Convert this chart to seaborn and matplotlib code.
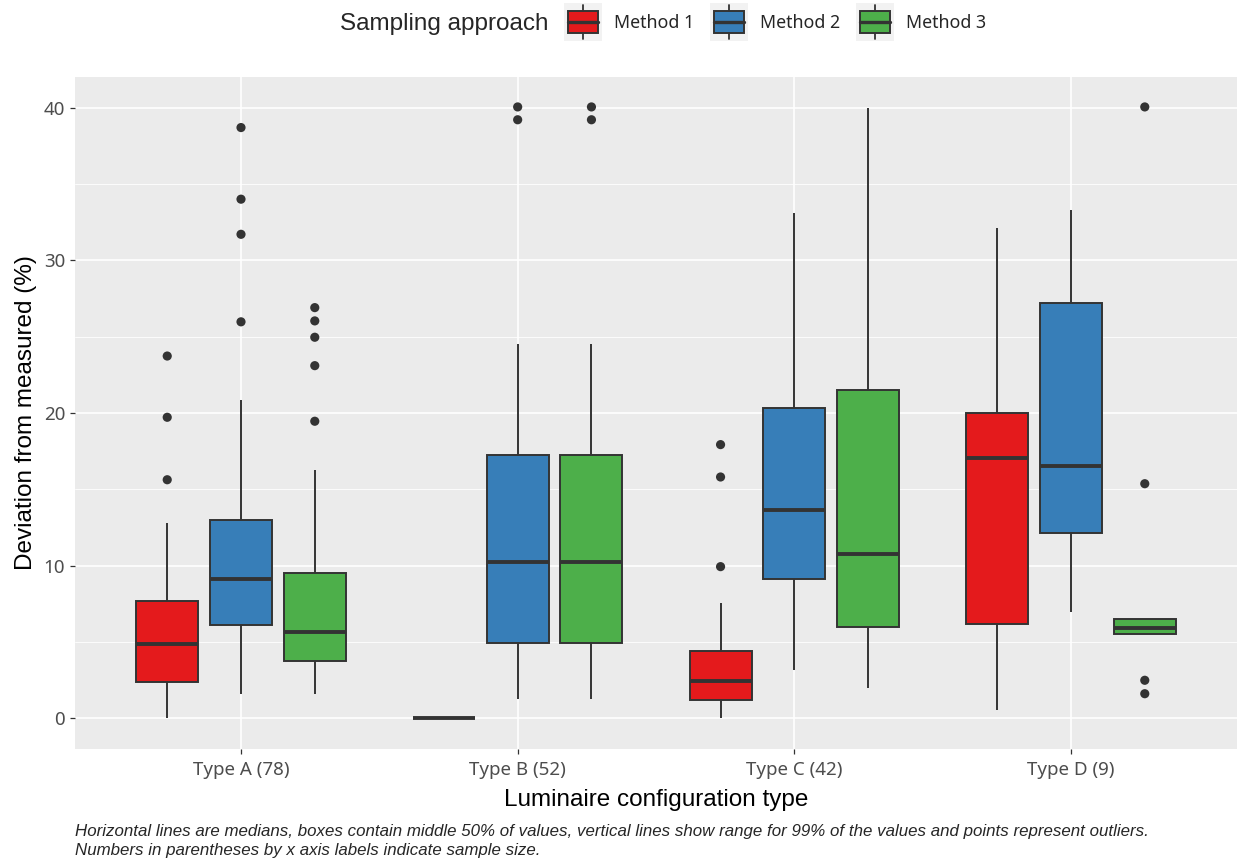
import numpy as np
import pandas as pd
import matplotlib
matplotlib.use("Agg")
import matplotlib.pyplot as plt
import seaborn as sns
from matplotlib.patches import Patch, Rectangle
from matplotlib.lines import Line2D
from matplotlib.legend_handler import HandlerBase

# ---- data -------------------------------------------------------------
types = ["Type A (78)", "Type B (52)", "Type C (42)", "Type D (9)"]
methods = ["Method 1", "Method 2", "Method 3"]
colors = ["#E41A1C", "#377EB8", "#4DAF4A"]

# five-number summaries per method, one value per configuration type
whisker_low = {
    "Method 1": [0.0, 0.0, 0.0, 0.53],
    "Method 2": [1.62, 1.25, 3.2, 7.0],
    "Method 3": [1.62, 1.25, 1.99, 5.5],
}
quartile_1 = {
    "Method 1": [2.36, 0.0, 1.23, 6.17],
    "Method 2": [6.09, 4.95, 9.13, 12.15],
    "Method 3": [3.79, 4.95, 6.0, 5.5],
}
medians = {
    "Method 1": [4.88, 0.0, 2.43, 17.08],
    "Method 2": [9.11, 10.27, 13.62, 16.51],
    "Method 3": [5.69, 10.27, 10.75, 5.93],
}
quartile_3 = {
    "Method 1": [7.68, 0.0, 4.4, 19.97],
    "Method 2": [12.98, 17.25, 20.3, 27.21],
    "Method 3": [9.55, 17.25, 21.48, 6.5],
}
whisker_high = {
    "Method 1": [12.79, 0.0, 7.57, 32.12],
    "Method 2": [20.84, 24.5, 33.08, 33.3],
    "Method 3": [16.29, 24.5, 40.0, 6.5],
}

# outlying observations
outliers_m1 = {"Type A (78)": [23.73, 19.72, 15.63],
               "Type C (42)": [17.93, 15.81, 9.94]}
outliers_m2 = {"Type A (78)": [38.69, 34.0, 31.7, 25.97],
               "Type B (52)": [40.04, 39.2]}
outliers_m3 = {"Type A (78)": [26.9, 26.03, 24.96, 23.1, 19.46],
               "Type B (52)": [40.04, 39.2],
               "Type D (9)": [40.04, 15.37, 2.5, 1.62]}

caption = ("Horizontal lines are medians, boxes contain middle 50% of values, vertical lines show "
           "range for 99% of the values and points represent outliers.\n"
           "Numbers in parentheses by x axis labels indicate sample size.")

# ---- tidy frames --------------------------------------------------------
box_rows = []
for m in methods:
    for i, t in enumerate(types):
        for stat in (whisker_low, quartile_1, medians, quartile_3, whisker_high):
            box_rows.append({"type": t, "method": m, "value": stat[m][i]})
box_df = pd.DataFrame(box_rows)

out_rows = []
for m, d in zip(methods, (outliers_m1, outliers_m2, outliers_m3)):
    for t, vals in d.items():
        for v in vals:
            out_rows.append({"type": t, "method": m, "value": v})
out_df = pd.DataFrame(out_rows)

# ---- styling ------------------------------------------------------------
sns.set_theme(style="darkgrid")
plt.rcParams["font.family"] = ["Liberation Sans", "DejaVu Sans"]

DARK = "#333333"
fig = plt.figure(figsize=(12.38, 8.63), dpi=100)
ax = fig.add_axes([75 / 1238, 1 - 749 / 863, 1162 / 1238, (749 - 77) / 863])
ax.set_facecolor("#EBEBEB")

sns.boxplot(data=box_df, x="type", y="value", hue="method",
            order=types, hue_order=methods, palette=colors, saturation=1,
            whis=(0, 100), showfliers=False, width=0.8, gap=0.16,
            linecolor=DARK, linewidth=1.4, showcaps=False,
            medianprops={"linewidth": 2.8, "color": DARK},
            whiskerprops={"linewidth": 1.4, "color": DARK},
            legend=False, ax=ax)
for patch in ax.patches:
    patch.set_zorder(3)
for line in ax.lines:
    line.set_zorder(4)

sns.stripplot(data=out_df, x="type", y="value", hue="method",
              order=types, hue_order=methods, dodge=True, jitter=False,
              palette=[DARK] * 3, size=6.6, linewidth=0, legend=False,
              zorder=5, ax=ax)

ax.set_xlim(-0.6, 3.6)
ax.set_ylim(-2, 42)
ax.set_yticks([0, 10, 20, 30, 40])
ax.set_yticks([5, 15, 25, 35], minor=True)
ax.grid(which="major", color="white", linewidth=1.2)
ax.grid(which="minor", axis="y", color="white", linewidth=0.6)
ax.set_axisbelow(True)
for s in ax.spines.values():
    s.set_visible(False)
ax.tick_params(axis="both", which="major", length=3.6, width=0.9, color=DARK,
               labelcolor="#4D4D4D", labelsize=13.5, pad=3.5,
               bottom=True, left=True)
ax.tick_params(axis="x", which="major", pad=5)
ax.tick_params(axis="both", which="minor", length=0)
for lab in ax.get_xticklabels() + ax.get_yticklabels():
    lab.set_fontfamily(["Noto Sans", "DejaVu Sans"])

ax.set_xlabel("Luminaire configuration type", fontsize=17.5, color="black", labelpad=7)
ax.set_ylabel("Deviation from measured (%)", fontsize=17.5, color="black", labelpad=5)

# ---- legend -------------------------------------------------------------
class BoxKey(HandlerBase):
    """Square legend key showing a small box-and-whisker glyph."""
    def create_artists(self, legend, orig_handle, xdescent, ydescent,
                       width, height, fontsize, trans):
        x0 = -xdescent
        side = width
        cy = -ydescent + height / 2
        y0 = cy - side / 2
        bg = Rectangle((x0, y0), side, side, facecolor="#F2F2F2",
                       edgecolor="none", transform=trans)
        cx = x0 + side / 2
        whisk = Line2D([cx, cx], [y0 + 0.06 * side, y0 + 0.94 * side],
                       color=DARK, lw=1.3, transform=trans)
        box = Rectangle((x0 + 0.1 * side, y0 + 0.22 * side),
                        0.8 * side, 0.56 * side,
                        facecolor=orig_handle.get_facecolor(), edgecolor=DARK,
                        lw=1.4, transform=trans)
        med = Line2D([x0 + 0.1 * side, x0 + 0.9 * side],
                     [cy] * 2, color=DARK, lw=2.4, transform=trans)
        return [bg, whisk, box, med]

handles = [Patch(facecolor=c) for c in colors]
fig.text(340 / 1238, 1 - 24 / 863, "Sampling approach", fontsize=17.5,
         ha="left", va="center")
fig.legend(handles, methods, handler_map={Patch: BoxKey()}, ncol=3,
           loc="center left", bbox_to_anchor=(564 / 1238, 1 - 23 / 863),
           frameon=False, handlelength=2.13, handleheight=1.0,
           handletextpad=0.67, columnspacing=0.9, borderpad=0, borderaxespad=0,
           prop={"family": ["Noto Sans", "DejaVu Sans"], "size": 12.8})

fig.text(75 / 1238, 1 - 841 / 863, caption, fontsize=12.2, style="italic",
         ha="left", va="center", linespacing=1.3)

fig.savefig("out.png", dpi=100)
